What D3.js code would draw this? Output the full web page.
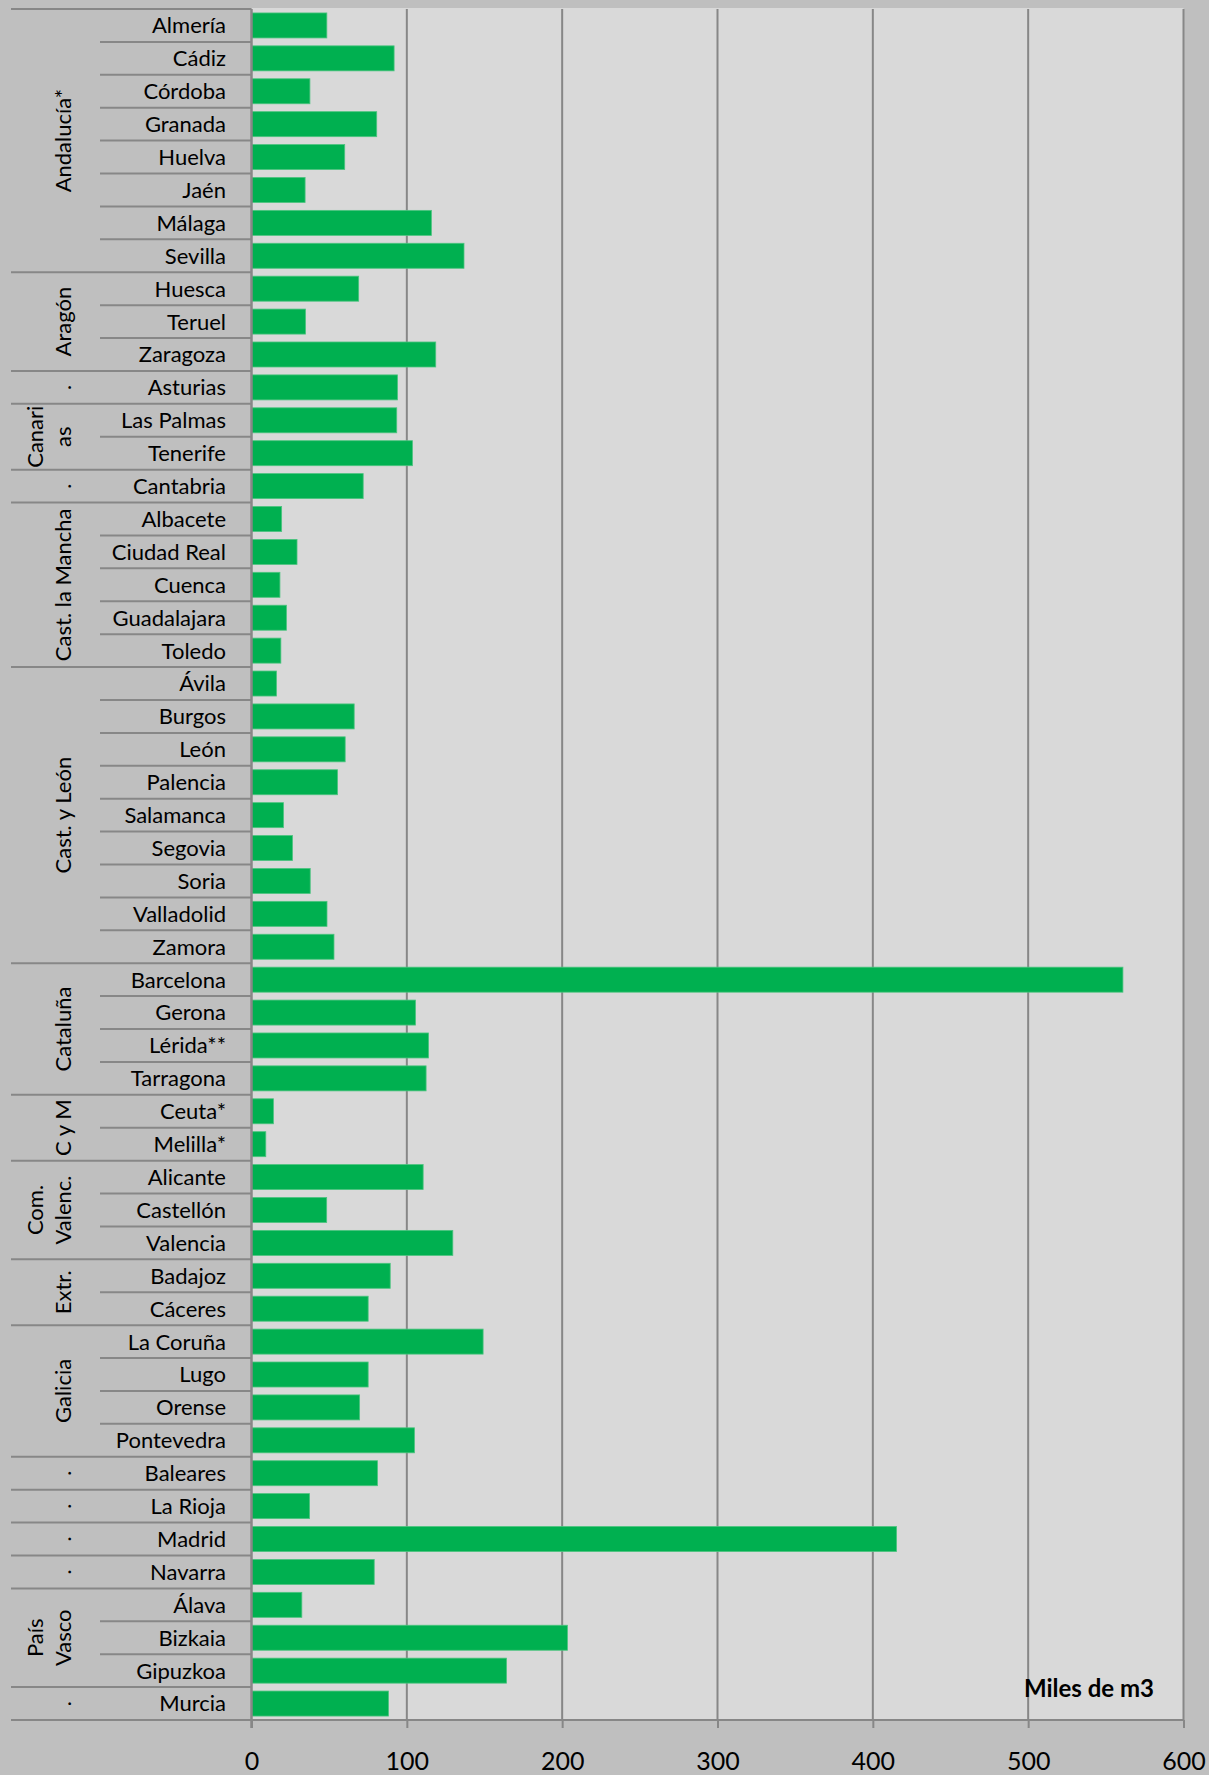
<html>
<head>
<meta charset="utf-8">
<title>Miles de m3</title>
<style>
  body { margin: 0; background: #bfbfbf; }
  text { font-family: Lato, "Open Sans", sans-serif; fill: #000; }
  .xAxis path { display: none; }
  .xAxis line { stroke: #878787; stroke-width: 2; }
</style>
<script src="https://d3js.org/d3.v7.min.js"></script>
</head>
<body>
<script>
// provinces top to bottom
var provinces = ["Almería","Cádiz","Córdoba","Granada","Huelva","Jaén","Málaga","Sevilla",
  "Huesca","Teruel","Zaragoza","Asturias","Las Palmas","Tenerife","Cantabria",
  "Albacete","Ciudad Real","Cuenca","Guadalajara","Toledo",
  "Ávila","Burgos","León","Palencia","Salamanca","Segovia","Soria","Valladolid","Zamora",
  "Barcelona","Gerona","Lérida**","Tarragona","Ceuta*","Melilla*",
  "Alicante","Castellón","Valencia","Badajoz","Cáceres",
  "La Coruña","Lugo","Orense","Pontevedra","Baleares","La Rioja","Madrid","Navarra",
  "Álava","Bizkaia","Gipuzkoa","Murcia"];
var values = [48.5,91.8,37.6,80.6,60.0,34.5,115.8,136.8,
  69.0,34.8,118.6,94.0,93.5,103.6,71.9,
  19.4,29.3,18.3,22.5,18.9,
  16.1,66.1,60.3,55.4,20.6,26.4,37.8,48.6,53.1,
  561,105.6,114.0,112.4,14.1,9.2,
  110.5,48.4,129.6,89.3,75.1,
  149.1,75.1,69.6,104.9,81.1,37.4,415.3,79.0,
  32.4,203.4,164.2,88.2];
// region groups: label lines and how many provinces each covers
var groupNames = [["Andalucía*"],["Aragón"],["."],["Canari","as"],["."],["Cast. la Mancha"],
  ["Cast. y León"],["Cataluña"],["C y M"],["Com.","Valenc."],["Extr."],["Galicia"],
  ["."],["."],["."],["."],["País","Vasco"],["."]];
var groupSizes = [8,3,1,2,1,5,9,4,2,3,2,4,1,1,1,1,3,1];
var xTicks = [0,100,200,300,400,500,600];
var unitLabel = "Miles de m3";

var width = 1209, height = 1775;
var plot = {left: 251.5, right: 1183.5, top: 9, bottom: 1720};
var gridColor = "#878787";

var svg = d3.select("body").append("svg")
  .attr("width", width).attr("height", height);

svg.append("rect").attr("width", width).attr("height", height).attr("fill", "#bfbfbf");
svg.append("rect")
  .attr("x", plot.left).attr("y", plot.top - 1)
  .attr("width", plot.right - plot.left).attr("height", plot.bottom - plot.top + 1)
  .attr("fill", "#d9d9d9");

var x = d3.scaleLinear().domain([0, 600]).range([plot.left, plot.right]);
var y = d3.scaleBand().domain(provinces).range([plot.top, plot.bottom])
  .paddingInner(0.24).paddingOuter(0.12);
var rowTop = function(i){ return plot.top + i * (plot.bottom - plot.top) / provinces.length; };

// vertical gridlines
svg.selectAll(".grid").data(xTicks.slice(1)).enter().append("line")
  .attr("class", "grid")
  .attr("x1", function(d){ return x(d); }).attr("x2", function(d){ return x(d); })
  .attr("y1", plot.top).attr("y2", plot.bottom)
  .attr("stroke", gridColor).attr("stroke-width", 2);

// bars
svg.selectAll(".bar").data(values).enter().append("rect")
  .attr("class", "bar")
  .attr("x", x(0))
  .attr("y", function(d, i){ return y(provinces[i]); })
  .attr("width", function(d){ return x(d) - x(0); })
  .attr("height", y.bandwidth())
  .attr("fill", "#00b050")
  .attr("stroke", "#4cc47f").attr("stroke-width", 0.8);

// x axis
var xAxis = d3.axisBottom(x).tickValues(xTicks).tickSize(8).tickPadding(24);
var gx = svg.append("g").attr("class", "xAxis")
  .attr("transform", "translate(0," + plot.bottom + ")").call(xAxis);
gx.selectAll("text").attr("font-size", "25px").style("font-family", "Lato, sans-serif");

svg.append("line")
  .attr("x1", plot.left).attr("x2", plot.right)
  .attr("y1", plot.bottom).attr("y2", plot.bottom)
  .attr("stroke", gridColor).attr("stroke-width", 2);
svg.append("line")
  .attr("x1", plot.left).attr("x2", plot.left)
  .attr("y1", plot.top).attr("y2", plot.bottom + 8)
  .attr("stroke", gridColor).attr("stroke-width", 2.5);

// category separators and labels
var groupStart = [];
var acc = 0;
groupSizes.forEach(function(n){ groupStart.push(acc); acc += n; });
var groupRows = {};
groupStart.forEach(function(s){ groupRows[s] = true; });

var sep = svg.append("g");
for (var i = 0; i <= provinces.length; i++) {
  sep.append("line")
    .attr("x1", (groupRows[i] || i == provinces.length) ? 11 : 100)
    .attr("x2", plot.left)
    .attr("y1", rowTop(i)).attr("y2", rowTop(i))
    .attr("stroke", gridColor).attr("stroke-width", 2);
}

svg.selectAll(".catLabel").data(provinces).enter().append("text")
  .attr("class", "catLabel")
  .attr("x", 226)
  .attr("y", function(d){ return y(d) + y.bandwidth() / 2; })
  .attr("dy", "0.36em")
  .attr("text-anchor", "end")
  .attr("font-size", "22px")
  .text(function(d){ return d; });

// group labels, rotated
groupNames.forEach(function(lines, g){
  var cy = (rowTop(groupStart[g]) + rowTop(groupStart[g] + groupSizes[g])) / 2;
  var bases = lines.length == 1 ? [71] : [43, 71];
  lines.forEach(function(t, k){
    svg.append("text")
      .attr("transform", "translate(" + bases[k] + "," + cy + ") rotate(-90)")
      .attr("text-anchor", "middle")
      .attr("font-size", "22px")
      .text(t);
  });
});

svg.append("text")
  .attr("x", 1089).attr("y", 1697)
  .attr("text-anchor", "middle")
  .attr("font-size", "24px").attr("font-weight", "bold")
  .text(unitLabel);
</script>
</body>
</html>
